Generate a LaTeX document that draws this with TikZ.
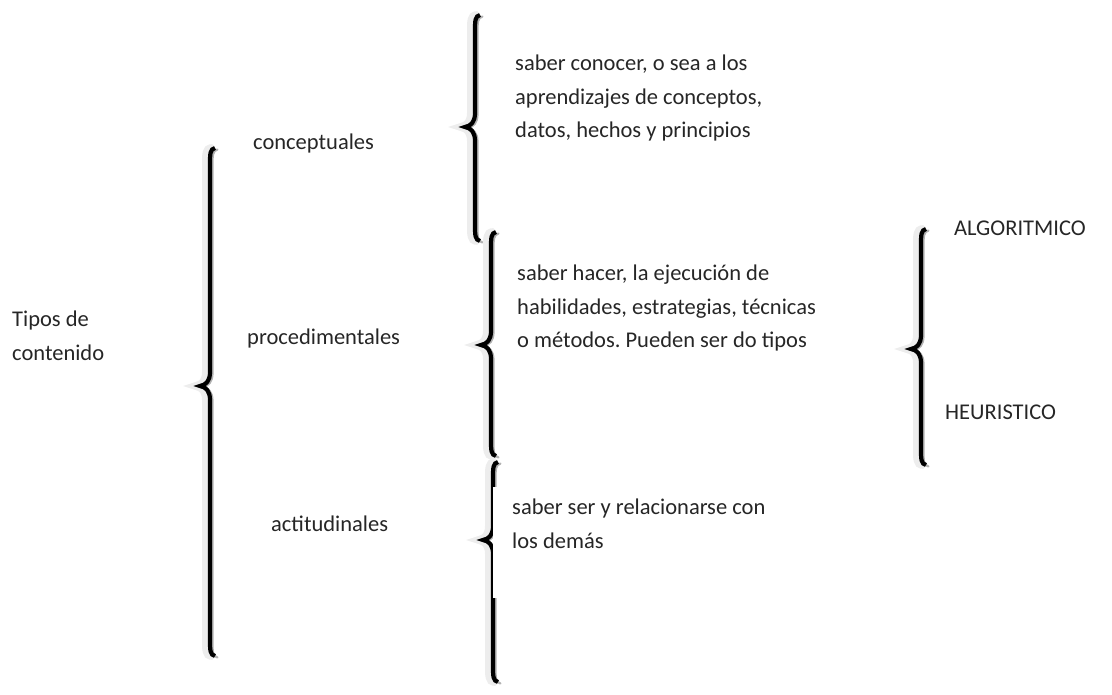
\documentclass[tikz,border=0pt]{standalone}
\usepackage{fontspec}
\setmainfont{Carlito}
\frenchspacing
\begin{document}
\begin{tikzpicture}[x=1pt,y=-1pt,
  lbl/.style={anchor=west,inner sep=0pt,align=left,text=black!85,
    font=\fontsize{22.5}{33.5}\selectfont},
  shadowline/.style={draw=black!30,line width=2.2pt},
  halo/.style={draw=black!7,line width=8pt},
  core/.style={draw=black,line width=4.2pt}]
\useasboundingbox (0,0) rectangle (1112,694);
% brace path: #1 stem centre x, #2 top, #3 bottom, #4 tip y
\newcommand\bracepath[4]{%
  (#1+5,#2) .. controls (#1,#2+1) and (#1,#2+6) .. (#1,#2+16)
  -- (#1,#4-14) .. controls (#1,#4-5) and (#1-4,#4-1) .. (#1-10,#4)
  .. controls (#1-4,#4+1) and (#1,#4+5) .. (#1,#4+14)
  -- (#1,#3-16) .. controls (#1,#3-6) and (#1,#3-1) .. (#1+5,#3)}
\newcommand\wordbrace[4]{%
  \draw[shadowline,line cap=round] \bracepath{#1+2.5}{#2+1.5}{#3+1.5}{#4+1};
  \draw[halo,line cap=round] \bracepath{#1-4}{#2}{#3}{#4};
  \draw[core] \bracepath{#1}{#2}{#3}{#4};}
\wordbrace{210}{148}{656}{386}
\wordbrace{475}{15}{241}{127}
\wordbrace{491}{232}{456}{345}
\wordbrace{493}{462}{682}{540}
\wordbrace{921}{229}{465}{349}
% white text box covering part of the lowest brace
\fill[white] (493.2,487) rectangle (830,598);
\node[lbl] (tipos) at (12,336) {Tipos de\\contenido};
\node[lbl] (conc) at (253,143) {conceptuales};
\node[lbl] (proc) at (247,338) {procedimentales};
\node[lbl] (acti) at (271,524) {actitudinales};
\node[lbl] (t1) at (515,98) {saber conocer, o sea a los\\aprendizajes de conceptos,\\datos, hechos y principios};
\node[lbl] (t2) at (517,308) {saber hacer, la ejecución de\\habilidades, estrategias, técnicas\\o métodos. Pueden ser do tipos};
\node[lbl] (t3) at (512,524) {saber ser y relacionarse con\\los demás};
\node[lbl] (alg) at (954,228) {ALGORITMICO};
\node[lbl] (heu) at (945,412) {HEURISTICO};
\end{tikzpicture}
\end{document}
